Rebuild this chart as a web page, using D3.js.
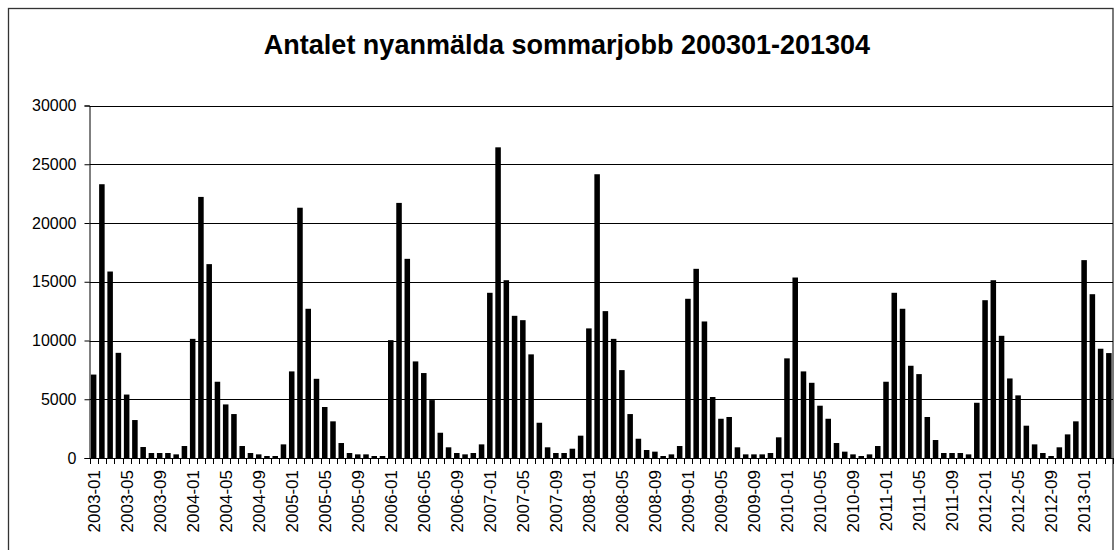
<!DOCTYPE html>
<html><head><meta charset="utf-8">
<script src="https://cdn.jsdelivr.net/npm/d3@7"></script>
<style>
body{margin:0;background:#fff}
svg{display:block}
text{font-family:Arial,"Liberation Sans",Helvetica,sans-serif;fill:#000}
</style>
</head><body>
<svg id="chart" width="1116" height="550"></svg>
<script>
// ---- data ----
const chartTitle = "Antalet nyanmälda sommarjobb 200301-201304";
const firstMonth = [2003, 0];   // 2003-01
const lastMonth = [2013, 3];    // 2013-04
const values = [
  7100, 23300, 15870, 8950, 5400, 3230, 935, 425, 425, 425, 310, 1020,       // 2003
  10140, 22220, 16500, 6490, 4560, 3740, 1020, 425, 310, 170, 170, 1160,     // 2004
  7370, 21300, 12700, 6740, 4340, 3120, 1275, 425, 310, 310, 170, 170,       // 2005
  10030, 21710, 16950, 8220, 7230, 4930, 2150, 910, 425, 310, 425, 1160,     // 2006
  14060, 26440, 15130, 12100, 11730, 8820, 3000, 910, 425, 425, 790, 1900,   // 2007
  11030, 24150, 12500, 10140, 7480, 3740, 1640, 680, 540, 170, 310, 1020,    // 2008
  13550, 16100, 11620, 5190, 3340, 3490, 910, 310, 310, 310, 425, 1760,      // 2009
  8480, 15360, 7370, 6400, 4450, 3340, 1275, 540, 310, 170, 310, 1020,       // 2010
  6490, 14060, 12700, 7850, 7140, 3490, 1530, 425, 425, 425, 310, 4700,      // 2011
  13430, 15130, 10400, 6770, 5330, 2750, 1160, 425, 170, 910, 2010, 3120,    // 2012
  16840, 13940, 9300, 8930                                                   // 2013
];
const yTicks = [0, 5000, 10000, 15000, 20000, 25000, 30000];
const xTickLabels = [
  "2003-01","2003-05","2003-09","2004-01","2004-05","2004-09",
  "2005-01","2005-05","2005-09","2006-01","2006-05","2006-09",
  "2007-01","2007-05","2007-09","2008-01","2008-05","2008-09",
  "2009-01","2009-05","2009-09","2010-01","2010-05","2010-09",
  "2011-01","2011-05","2011-09","2012-01","2012-05","2012-09",
  "2013-01"
];

// categories (months) 2003-01 .. 2013-04
const fmt = d3.timeFormat("%Y-%m");
const categories = d3.timeMonth.range(
  new Date(firstMonth[0], firstMonth[1], 1),
  d3.timeMonth.offset(new Date(lastMonth[0], lastMonth[1], 1), 1)
).map(fmt);
const data = categories.map((c, i) => ({cat: c, value: values[i]}));

// ---- layout ----
const svg = d3.select("#chart");
const plot = {left: 89.5, right: 1113, top: 105.5, bottom: 458};

// outer chart border
svg.append("rect")
  .attr("x", 8.5).attr("y", 8.5)
  .attr("width", 1104.5).attr("height", 560)
  .attr("fill", "#fff").attr("stroke", "#333").attr("stroke-width", 1.3);

// title
svg.append("text")
  .attr("x", 567).attr("y", 54)
  .attr("text-anchor", "middle")
  .attr("font-size", 27).attr("font-weight", "bold")
  .text(chartTitle);

const x = d3.scaleBand()
  .domain(categories)
  .range([plot.left, plot.right])
  .paddingInner(0.33).paddingOuter(0.165);

const y = d3.scaleLinear()
  .domain([0, 30000])
  .range([plot.bottom, plot.top]);

// gridlines
svg.append("g").selectAll("line")
  .data(yTicks.filter(v => v > 0))
  .join("line")
  .attr("x1", plot.left).attr("x2", plot.right)
  .attr("y1", d => Math.round(y(d)) + 0.5).attr("y2", d => Math.round(y(d)) + 0.5)
  .attr("stroke", "#000").attr("stroke-width", 1);

// bars
svg.append("g").selectAll("rect")
  .data(data)
  .join("rect")
  .attr("x", d => x(d.cat))
  .attr("width", x.bandwidth())
  .attr("y", d => y(d.value))
  .attr("height", d => y(0) - y(d.value))
  .attr("fill", "#000");

// y axis
const yAxis = svg.append("g")
  .attr("transform", `translate(${plot.left},0)`)
  .call(d3.axisLeft(y).tickValues(yTicks).tickSize(5).tickPadding(8).tickFormat(d3.format("d")));
yAxis.selectAll("text").attr("font-size", 16).style("font-family", "Arial, 'Liberation Sans', sans-serif");
yAxis.selectAll("line,path").attr("stroke", "#000");

// x axis line + boundary ticks
const step = x.step();
const boundaries = categories.map(c => x(c) - (step - x.bandwidth()) / 2).concat([plot.right]);
const xg = svg.append("g");
xg.append("line")
  .attr("x1", plot.left).attr("x2", plot.right)
  .attr("y1", plot.bottom + 0.5).attr("y2", plot.bottom + 0.5)
  .attr("stroke", "#000");
xg.selectAll("line.tick")
  .data(boundaries)
  .join("line")
  .attr("class", "tick")
  .attr("x1", d => Math.round(d) + 0.5).attr("x2", d => Math.round(d) + 0.5)
  .attr("y1", plot.bottom).attr("y2", plot.bottom + 6)
  .attr("stroke", "#000");

// x labels (every 4th month)
xg.selectAll("text")
  .data(xTickLabels)
  .join("text")
  .attr("transform", d => `translate(${x(d) + x.bandwidth() / 2},${plot.bottom + 12}) rotate(-90)`)
  .attr("text-anchor", "end")
  .attr("dy", "0.36em")
  .attr("font-size", 17)
  .text(d => d);
</script>
</body></html>
